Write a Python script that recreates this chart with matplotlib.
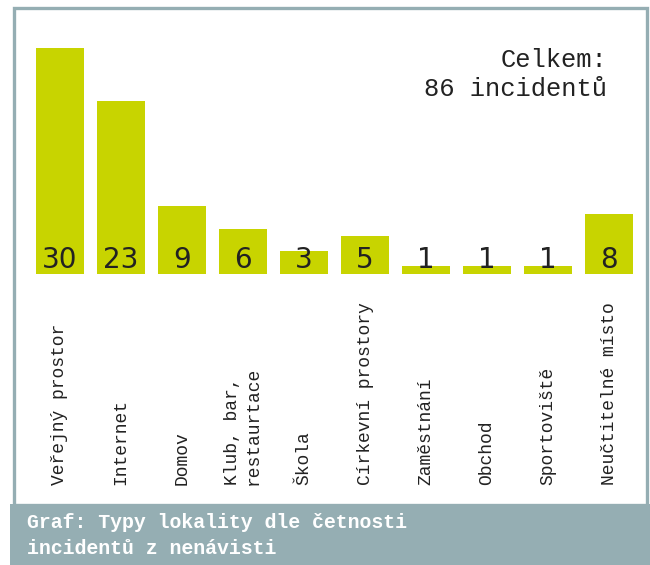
import matplotlib
matplotlib.use("Agg")
import matplotlib.pyplot as plt
from matplotlib.patches import Rectangle

categories = ["Veřejný prostor", "Internet", "Domov", "Klub, bar,\nrestaurtace", "Škola",
              "Církevní prostory", "Zaměstnání", "Obchod", "Sportoviště", "Neučtitelné místo"]
values = [30, 23, 9, 6, 3, 5, 1, 1, 1, 8]
total_text = "Celkem:\n86 incidentů"
footer_lines = ["Graf: Typy lokality dle četnosti", "incidentů z nenávisti"]

W, H = 650, 565
DPI = 100
BAR = "#c8d400"
GREY = "#95aeb3"
DARK = "#222222"
MONO = ["Liberation Mono", "DejaVu Sans Mono"]

fig = plt.figure(figsize=(W / DPI, H / DPI), dpi=DPI)
fig.patch.set_facecolor("white")

def fx(px):
    return px / W

def fy(py):
    return 1 - py / H

# frame
fig.add_artist(Rectangle((fx(13.5), fy(505)), fx(646.5) - fx(13.5), fy(7.5) - fy(505),
                         transform=fig.transFigure, fill=False, edgecolor=GREY, linewidth=2.4))
# footer band
fig.add_artist(Rectangle((fx(10), 0), fx(650) - fx(10), fy(504),
                         transform=fig.transFigure, facecolor=GREY, edgecolor="none"))

# axes: bar centers 60 + 61*i px, baseline 274, 30 units = 226 px
left = 60 - 30.5
right = 60 + 61 * 9 + 30.5
ax = fig.add_axes([fx(left), fy(274), fx(right) - fx(left), (226) / H])
ax.set_xlim(-0.5, len(values) - 0.5)
ax.set_ylim(0, 30)
ax.axis("off")

xs = list(range(len(values)))
ax.bar(xs, values, width=48 / 61, color=BAR)
for x, v in zip(xs, values):
    ax.annotate(str(v), (x, 0), xytext=(0, 4.3), textcoords="offset points",
                ha="center", va="baseline", fontsize=20, color=DARK,
                family=["DejaVu Sans"])

# category labels
for x, c in zip(xs, categories):
    px = 60 + 61 * x
    fig.text(fx(px), fy(485), c, rotation=90, ha="center", va="bottom",
             multialignment="left", fontsize=13, family=MONO, color=DARK,
             linespacing=1.3)

fig.text(fx(607), fy(48), total_text, ha="right", va="top", fontsize=18.4,
         family=MONO, color=DARK, multialignment="right", linespacing=1.25)

fig.text(fx(27), fy(522), footer_lines[0], ha="left", va="center", fontsize=14.3,
         family=MONO, color="white", fontweight="bold")
fig.text(fx(27), fy(549), footer_lines[1], ha="left", va="center", fontsize=14.3,
         family=MONO, color="white", fontweight="bold")

fig.savefig("out.png", dpi=DPI, facecolor="white")
